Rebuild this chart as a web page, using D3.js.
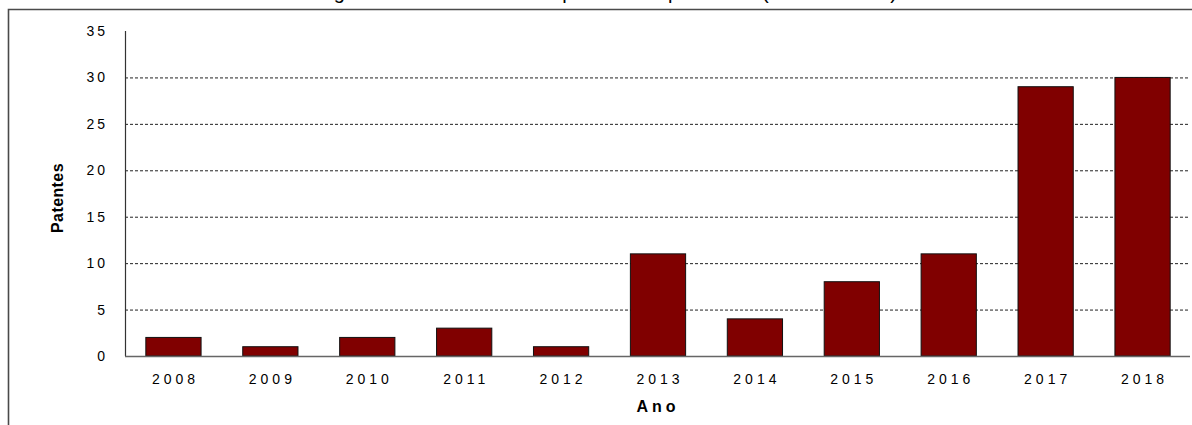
<!DOCTYPE html>
<html>
<head>
<meta charset="utf-8">
<script src="https://cdn.jsdelivr.net/npm/d3@7"></script>
<style>
  body { margin: 0; background: #fff; }
  svg { font-family: "Liberation Sans", Arial, sans-serif; }
</style>
</head>
<body>
<svg width="1192" height="425"></svg>
<script>
// data
const years = ['2008', '2009', '2010', '2011', '2012', '2013', '2014', '2015', '2016', '2017', '2018'];
const patentes = [2, 1, 2, 3, 1, 11, 4, 8, 11, 29, 30];
const yTicks = [0, 5, 10, 15, 20, 25, 30, 35];
const gridTicks = [5, 10, 15, 20, 25, 30];
const titulo = 'Figura 3 - Número de patentes por ano (2008-2018)';

const width = 1192;
const height = 425;
const plotLeft = 125, plotRight = 1191, plotTop = 31, plotBottom = 356;

const svg = d3.select('svg')
    .attr('width', width)
    .attr('height', height);

const data = years.map((y, i) => ({ ano: y, valor: patentes[i] }));

const xScale = d3.scaleBand()
    .domain(years)
    .range([plotLeft, plotRight])
    .paddingInner(0.43)
    .paddingOuter(0.215);

const yScale = d3.scaleLinear()
    .domain([0, 35])
    .range([plotBottom, plotTop]);

// outer frame (only top and left edges visible)
svg.append('path')
    .attr('d', `M8.5,${height + 5} L8.5,9.5 L${width + 5},9.5`)
    .attr('fill', 'none')
    .attr('stroke', '#4a4a4a')
    .attr('stroke-width', 1.6);

// title, cut off by the top edge as in the source image
svg.append('text')
    .attr('x', 312)
    .attr('y', -1)
    .attr('textLength', 585)
    .attr('lengthAdjust', 'spacing')
    .style('font-size', '20px')
    .attr('fill', '#000')
    .text(titulo);

// dashed grid lines
const grid = d3.axisLeft(yScale)
    .tickValues(gridTicks)
    .tickSize(-(plotRight - 1 - plotLeft))
    .tickFormat('');

svg.append('g')
    .attr('transform', `translate(${plotLeft}, 0)`)
    .call(grid)
    .call(g => g.select('.domain').remove())
    .call(g => g.selectAll('line')
        .attr('stroke', '#222')
        .attr('stroke-dasharray', '3,2'));

// bars
svg.selectAll('rect.bar')
    .data(data)
    .enter()
    .append('rect')
        .attr('class', 'bar')
        .attr('x', d => xScale(d.ano))
        .attr('y', d => yScale(d.valor))
        .attr('width', xScale.bandwidth())
        .attr('height', d => yScale(0) - yScale(d.valor))
        .attr('fill', '#800000')
        .attr('stroke', '#111')
        .attr('stroke-width', 1);

// y axis
const yAxis = d3.axisLeft(yScale)
    .tickValues(yTicks)
    .tickSize(0)
    .tickPadding(17);

svg.append('g')
    .attr('transform', `translate(${plotLeft}, 0)`)
    .call(yAxis)
    .call(g => g.select('.domain')
        .attr('d', `M0.5,${plotTop} V${plotBottom}`)
        .attr('stroke', '#333')
        .attr('stroke-width', 1.2))
    .call(g => g.selectAll('text')
        .style('font-size', '14px')
        .style('letter-spacing', '3px')
        .attr('fill', '#000'));

// x axis
const xAxis = d3.axisBottom(xScale)
    .tickSize(0)
    .tickPadding(18);

svg.append('g')
    .attr('transform', `translate(0, ${plotBottom})`)
    .call(xAxis)
    .call(g => g.select('.domain')
        .attr('d', `M${plotLeft},0.5 H${plotRight - 1}`)
        .attr('stroke', '#666')
        .attr('stroke-width', 1.6))
    .call(g => g.selectAll('text')
        .style('font-size', '14px')
        .style('letter-spacing', '4px')
        .attr('dx', '2px')
        .attr('fill', '#000'));

// axis titles
svg.append('text')
    .attr('x', 658)
    .attr('y', 412)
    .style('text-anchor', 'middle')
    .style('font-size', '16px')
    .style('font-weight', 'bold')
    .style('letter-spacing', '4px')
    .text('Ano');

svg.append('text')
    .attr('transform', 'rotate(-90)')
    .attr('x', -198)
    .attr('y', 63)
    .style('text-anchor', 'middle')
    .style('font-size', '16px')
    .style('font-weight', 'bold')
    .style('letter-spacing', '0.4px')
    .text('Patentes');
</script>
</body>
</html>
